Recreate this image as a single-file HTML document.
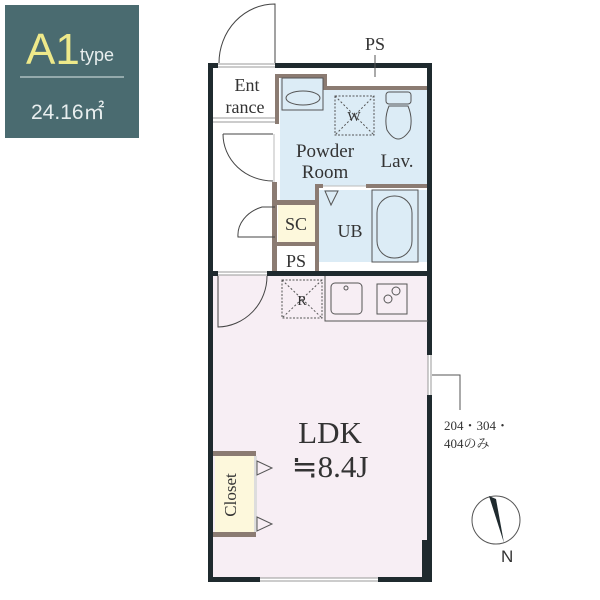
<!DOCTYPE html>
<html><head><meta charset="utf-8"><style>
html,body{margin:0;padding:0;background:#fff;width:600px;height:600px;overflow:hidden}
svg{display:block}
text{font-family:"Liberation Serif","Noto Serif CJK SC",serif;fill:#333}
</style></head><body>
<svg width="600" height="600" viewBox="0 0 600 600" xmlns="http://www.w3.org/2000/svg">
<rect x="5" y="5" width="134" height="133" fill="#4a6b70"/>
<text x="26" y="64" style="font-family:'Liberation Sans',sans-serif;font-size:44px;fill:#eee98a">A1</text>
<text x="80" y="61" style="font-family:'Liberation Sans',sans-serif;font-size:18px;fill:#e8eeee">type</text>
<line x1="20" y1="77" x2="124" y2="77" stroke="#dfe8e8" stroke-width="1"/>
<text x="31" y="119" style="font-family:'Liberation Sans',sans-serif;font-size:21px;fill:#e8eeee">24.16㎡</text>

<rect x="213" y="275" width="215" height="303" fill="#f7eef4"/>
<polygon points="280,78 327,78 327,89 428,89 428,186 318,186 318,262 428,262 428,190 318,190 318,205 280,205" fill="#dcecf6"/>
<rect x="318" y="190" width="110" height="72" fill="#dcecf6"/>
<rect x="278" y="205" width="37" height="37" fill="#fdf8dc"/>
<rect x="215" y="455" width="39" height="79" fill="#fdf8dc"/>

<g fill="#8b7b72">
<rect x="275" y="74" width="52" height="4"/>
<rect x="323" y="74" width="4" height="16"/>
<rect x="323" y="86" width="105" height="4"/>
<rect x="275" y="74" width="4" height="50"/>
<rect x="272" y="182" width="5" height="90"/>
<rect x="277" y="200" width="41" height="5"/>
<rect x="277" y="242" width="41" height="4"/>
<rect x="315" y="184" width="4" height="88"/>
<rect x="315" y="184" width="8" height="4"/>
<rect x="366" y="184" width="62" height="4"/>
<rect x="213" y="451" width="43" height="5"/>
<rect x="213" y="532" width="43" height="5"/>
</g>
<rect x="254" y="456" width="3" height="76" fill="#ddd"/>
<line x1="323" y1="186" x2="366" y2="186" stroke="#bbb" stroke-width="1"/>
<line x1="274" y1="134" x2="274" y2="182" stroke="#bbb" stroke-width="1"/>

<g fill="#1f2a2e">
<rect x="208" y="63" width="10" height="5"/>
<rect x="275" y="63" width="157" height="5"/>
<rect x="208" y="63" width="5" height="519"/>
<rect x="427" y="63" width="5" height="292"/>
<rect x="427" y="395" width="5" height="187"/>
<rect x="422" y="540" width="6" height="38"/>
<rect x="208" y="577" width="52" height="5"/>
<rect x="378" y="577" width="54" height="5"/>
<rect x="208" y="271" width="10" height="5"/>
<rect x="267" y="271" width="165" height="5"/>
</g>
<g stroke="#999" stroke-width="1" fill="none">
<line x1="218" y1="64" x2="275" y2="64"/><line x1="218" y1="67" x2="275" y2="67"/>
<line x1="218" y1="272" x2="267" y2="272"/><line x1="218" y1="275" x2="267" y2="275"/>
<line x1="260" y1="578" x2="378" y2="578"/><line x1="260" y1="581" x2="378" y2="581"/>
<line x1="428" y1="355" x2="428" y2="395"/><line x1="431" y1="355" x2="431" y2="395"/>
<line x1="213" y1="118" x2="275" y2="118"/><line x1="213" y1="122" x2="275" y2="122"/>
</g>

<g stroke="#444" stroke-width="1" fill="none">
<path d="M275,63 L275,4 A56,59 0 0 0 219,63"/>
<path d="M223,134 L273,134 M223,134 A50,47 0 0 0 273,181"/>
<path d="M275,207 L262,207 A37,30 0 0 0 238,237 L275,237"/>
<path d="M218,276 L218,327 A50,51 0 0 0 267,276"/>
</g>

<g stroke="#555" stroke-width="1" fill="none">
<rect x="282" y="78" width="41" height="32"/>
<ellipse cx="303" cy="98" rx="17" ry="7"/>
<rect x="335" y="96" width="39" height="39" stroke-dasharray="2,1.5"/>
<line x1="335" y1="96" x2="374" y2="135" stroke-dasharray="2,2"/><line x1="374" y1="96" x2="335" y2="135" stroke-dasharray="2,2"/>
<rect x="386" y="92" width="25" height="12" rx="3"/>
<path d="M389,106 L408,106 Q413,118 410,130 Q398,148 387,130 Q384,118 389,106 Z"/>
<rect x="372" y="190" width="46" height="72"/>
<rect x="377" y="196" width="35" height="62" rx="17"/>
<polygon points="325,191 338,191 331,205"/>
<rect x="282" y="280" width="40" height="38" stroke-dasharray="2,1.5"/>
<line x1="282" y1="280" x2="322" y2="318" stroke-dasharray="2,2"/><line x1="322" y1="280" x2="282" y2="318" stroke-dasharray="2,2"/>
<path d="M325,276 L325,321 L428,321"/>
<rect x="331" y="283" width="31" height="31" rx="4"/>
<circle cx="346" cy="288" r="2"/>
<rect x="377" y="284" width="30" height="30"/>
<circle cx="396" cy="291" r="4"/><circle cx="388" cy="299" r="4"/>
<polygon points="257,461 272,468 257,475"/>
<polygon points="257,517 272,524 257,531"/>
<path d="M432,375 L460,375 L460,410"/>
<circle cx="496" cy="520" r="24"/>
<line x1="375" y1="55" x2="375" y2="77"/>
</g>
<polygon points="489,496 496,499 504,543" fill="#1f2a2e"/>

<text x="247" y="91" font-size="18" text-anchor="middle">Ent</text>
<text x="245" y="113" font-size="18" text-anchor="middle">rance</text>
<text x="354" y="121" font-size="14" text-anchor="middle">W</text>
<text x="325" y="157" font-size="19" text-anchor="middle">Powder</text>
<text x="325" y="178" font-size="19" text-anchor="middle">Room</text>
<text x="397" y="167" font-size="19" text-anchor="middle">Lav.</text>
<text x="296" y="230" font-size="18" text-anchor="middle">SC</text>
<text x="296" y="267" font-size="18" text-anchor="middle">PS</text>
<text x="350" y="237" font-size="18" text-anchor="middle">UB</text>
<text x="302" y="305" font-size="14" text-anchor="middle">R</text>
<text x="375" y="50" font-size="18" text-anchor="middle">PS</text>
<text x="330" y="443" font-size="31" text-anchor="middle">LDK</text>
<text x="330" y="477" font-size="31" text-anchor="middle">≒8.4J</text>
<text x="444" y="430" font-size="13">204・304・</text>
<text x="444" y="448" font-size="13">404のみ</text>
<text transform="translate(236,495) rotate(-90)" font-size="17" text-anchor="middle">Closet</text>
<text x="501" y="562" style="font-family:'Liberation Sans',sans-serif;font-size:17px">N</text>
</svg>
</body></html>
